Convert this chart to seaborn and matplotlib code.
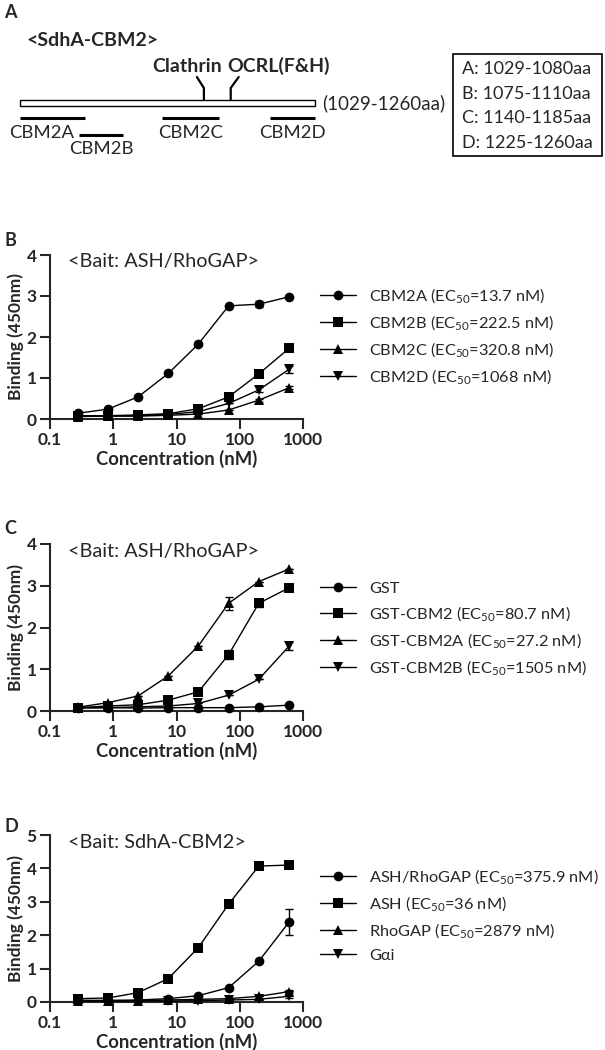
import matplotlib
matplotlib.use("Agg")
import matplotlib.pyplot as plt
from matplotlib.patches import Rectangle
from matplotlib.ticker import NullLocator
import seaborn as sns
import pandas as pd
import numpy as np

# ---- data ----
conc = [0.274, 0.823, 2.47, 7.41, 22.2, 66.7, 200, 600]

# panel A: SdhA-CBM2 fragments (residues)
frag_names = ['CBM2A', 'CBM2B', 'CBM2C', 'CBM2D']
frag_letters = ['A', 'B', 'C', 'D']
frag_start = [1029, 1075, 1140, 1225]
frag_end = [1080, 1110, 1185, 1260]
full_start, full_end = 1029, 1260
site_names = ['Clathrin', 'OCRL(F&H)']
site_res = [1173, 1194]

# panel B
b_labels = ['CBM2A (EC$_{50}$=13.7 nM)', 'CBM2B (EC$_{50}$=222.5 nM)',
            'CBM2C (EC$_{50}$=320.8 nM)', 'CBM2D (EC$_{50}$=1068 nM)']
b_vals = [[0.14, 0.24, 0.54, 1.11, 1.83, 2.76, 2.80, 2.98],
          [0.08, 0.08, 0.10, 0.13, 0.25, 0.54, 1.10, 1.72],
          [0.06, 0.07, 0.07, 0.09, 0.12, 0.22, 0.46, 0.76],
          [0.07, 0.08, 0.08, 0.11, 0.18, 0.38, 0.71, 1.21]]
b_err = [[0, 0, 0, 0, 0, 0, 0.08, 0],
         [0, 0, 0, 0, 0, 0.05, 0.05, 0],
         [0, 0, 0, 0, 0, 0, 0.04, 0.04],
         [0, 0, 0, 0, 0, 0, 0.06, 0.09]]

# panel C
c_labels = ['GST', 'GST-CBM2 (EC$_{50}$=80.7 nM)',
            'GST-CBM2A (EC$_{50}$=27.2 nM)', 'GST-CBM2B (EC$_{50}$=1505 nM)']
c_vals = [[0.08, 0.08, 0.07, 0.08, 0.08, 0.08, 0.10, 0.14],
          [0.08, 0.12, 0.15, 0.26, 0.46, 1.35, 2.58, 2.95],
          [0.09, 0.20, 0.36, 0.84, 1.56, 2.58, 3.10, 3.40],
          [0.07, 0.08, 0.10, 0.12, 0.18, 0.38, 0.76, 1.55]]
c_err = [[0, 0, 0, 0, 0, 0, 0, 0],
         [0, 0, 0, 0, 0, 0.10, 0.08, 0],
         [0, 0, 0, 0, 0, 0.15, 0, 0],
         [0, 0, 0, 0, 0, 0, 0, 0.10]]

# panel D
d_labels = ['ASH/RhoGAP (EC$_{50}$=375.9 nM)', 'ASH (EC$_{50}$=36 nM)',
            'RhoGAP (EC$_{50}$=2879 nM)', 'G\u03b1i']
d_vals = [[0.05, 0.05, 0.06, 0.10, 0.19, 0.43, 1.22, 2.39],
          [0.10, 0.12, 0.28, 0.70, 1.63, 2.93, 4.07, 4.10],
          [0.03, 0.03, 0.04, 0.06, 0.08, 0.10, 0.17, 0.31],
          [0.02, 0.02, 0.03, 0.03, 0.04, 0.06, 0.08, 0.17]]
d_err = [[0, 0, 0, 0, 0, 0, 0, 0.38],
         [0, 0, 0, 0, 0, 0, 0, 0],
         [0, 0, 0, 0, 0, 0, 0, 0.05],
         [0, 0, 0, 0, 0, 0, 0, 0.04]]

markers = ['o', 's', '^', 'v']

sns.set_style("ticks")
plt.rcParams['font.family'] = ['Lato', 'DejaVu Sans']
plt.rcParams['mathtext.fontset'] = 'custom'
plt.rcParams['mathtext.rm'] = 'Lato'
plt.rcParams['mathtext.it'] = 'Lato'

W, H = 605, 1050
fig = plt.figure(figsize=(W / 100, H / 100), dpi=100)

# overlay axes in pixel coordinates for panel A and panel letters
ov = fig.add_axes([0, 0, 1, 1])
ov.set_xlim(0, W)
ov.set_ylim(H, 0)
ov.axis('off')

for letter, y in zip(['A', 'B', 'C', 'D'], [12, 241, 529, 826]):
    ov.text(4, y, letter, fontsize=13, fontweight='bold', va='center', ha='left')

bar_x0, bar_x1 = 20, 315


def res2x(r):
    return bar_x0 + (r - full_start) * (bar_x1 - bar_x0) / (full_end - full_start)


ov.text(27, 40, '<SdhA-CBM2>', fontsize=14, fontweight='bold', va='center', ha='left')
ov.add_patch(Rectangle((bar_x0, 100), bar_x1 - bar_x0, 6, facecolor='white',
                       edgecolor='black', lw=1))
ov.text(322, 103, '(%d-%daa)' % (full_start, full_end), fontsize=13.5, va='center', ha='left')

line_y = [118, 135, 118, 118]
lab_y = [133, 149, 133, 133]
lab_dx = [-11, 0, 0, 0]
for name, s, e, ly, ty, dx in zip(frag_names, frag_start, frag_end, line_y, lab_y, lab_dx):
    ov.plot([res2x(s), res2x(e)], [ly, ly], color='black', lw=2.2, solid_capstyle='butt')
    ov.text((res2x(s) + res2x(e)) / 2 + dx, ty, name, fontsize=13.3, ha='center', va='center')

for name, r, d in zip(site_names, site_res, [-7, 8]):
    x = res2x(r)
    ov.plot([x, x, x + d], [100, 88, 77], color='black', lw=1.6)
    ov.text(x + d + (-10 if d < 0 else 40), 66, name, fontsize=14, fontweight='bold',
            ha='center', va='center')

ov.add_patch(Rectangle((453, 54), 149, 102, facecolor='none', edgecolor='black', lw=1.2))
for i, (l, s, e) in enumerate(zip(frag_letters, frag_start, frag_end)):
    ov.text(462, 69 + i * 24.7, '%s: %d-%daa' % (l, s, e), fontsize=13, ha='left', va='center')


def panel(top, bottom, title, labels, vals, errs, ymax, leg_y):
    ax = fig.add_axes([50 / W, 1 - bottom / H, 253 / W, (bottom - top) / H])
    rows = []
    for lab, v in zip(labels, vals):
        for c, y in zip(conc, v):
            rows.append((lab, c, y))
    df = pd.DataFrame(rows, columns=['series', 'conc', 'binding'])
    for lab, v, e in zip(labels, vals, errs):
        ax.errorbar(conc, v, yerr=e, fmt='none', ecolor='black', elinewidth=1,
                    capsize=3, capthick=1, clip_on=False, zorder=2)
    sns.lineplot(data=df, x='conc', y='binding', style='series', style_order=labels,
                 markers=markers, dashes=False, color='black', linewidth=1,
                 markersize=7, markeredgewidth=0, legend=False, ax=ax,
                 clip_on=False, zorder=3)
    handles = [l for l in ax.lines if l.get_marker() in markers][:4]
    ax.set_xscale('log')
    ax.set_xlim(0.1, 1000)
    ax.set_ylim(0, ymax)
    ax.set_xticks([0.1, 1, 10, 100, 1000])
    ax.set_xticklabels(['0.1', '1', '10', '100', '1000'])
    ax.xaxis.set_minor_locator(NullLocator())
    ax.set_yticks(range(0, ymax + 1))
    ax.tick_params(width=1.5, length=7.5, labelsize=12.5, pad=2)
    for t in ax.get_xticklabels() + ax.get_yticklabels():
        t.set_fontweight('bold')
    sns.despine(ax=ax)
    for sp in ['left', 'bottom']:
        ax.spines[sp].set_linewidth(1.5)
    ax.set_xlabel('Concentration (nM)', fontsize=13.3, fontweight='bold', labelpad=1)
    ax.set_ylabel('Binding (450nm)', fontsize=12.5, fontweight='bold', labelpad=2)
    ax.text(0.07, 1 - 7 / (bottom - top), title, transform=ax.transAxes,
            fontsize=14.3, ha='left', va='center')
    fig.legend(handles, labels, loc='center left', bbox_to_anchor=(320 / W, 1 - leg_y / H),
               frameon=False, fontsize=11.8, handlelength=2.2, handletextpad=0.8,
               labelspacing=0.5, borderpad=0, borderaxespad=0)
    return ax


panel(255, 419, '<Bait: ASH/RhoGAP>', b_labels, b_vals, b_err, 4, 336)
panel(544, 711, '<Bait: ASH/RhoGAP>', c_labels, c_vals, c_err, 4, 629)
panel(835, 1002, '<Bait: SdhA-CBM2>', d_labels, d_vals, d_err, 5, 915)

fig.savefig('out.png', dpi=100)
